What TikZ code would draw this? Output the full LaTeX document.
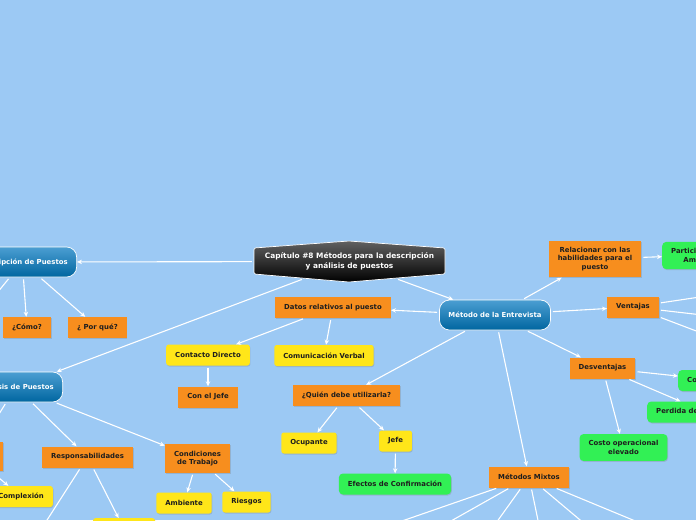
\documentclass[tikz,border=0pt]{standalone}
\usepackage{fontspec}
\setmainfont{DejaVu Sans}
\usetikzlibrary{arrows.meta,shadows}
\definecolor{fondo}{RGB}{156,201,244}
\definecolor{naranja}{RGB}{247,142,30}
\definecolor{amarillo}{RGB}{255,230,25}
\definecolor{verde}{RGB}{50,240,85}
\definecolor{azulclaro}{RGB}{75,158,210}
\definecolor{azuloscuro}{RGB}{0,102,160}
\definecolor{texto}{RGB}{30,30,30}

\begin{document}
\begin{tikzpicture}[x=1pt,y=-1pt,
        every node/.style={font=\bfseries\fontsize{6.9}{8.6}\selectfont,text=texto,align=center},
        caja/.style={inner xsep=9pt,inner ysep=6.5pt,minimum height=21pt,
          drop shadow={shadow xshift=0.7pt,shadow yshift=-1pt,opacity=0.3}},
        cajanar/.style={caja,fill=naranja},
        cajaama/.style={caja,fill=amarillo,rounded corners=2.5pt},
        cajaver/.style={caja,fill=verde,rounded corners=4pt},
        pildora/.style={inner xsep=9pt,minimum height=30pt,rounded corners=10pt,draw=white,
          line width=0.7pt,top color=azulclaro,bottom color=azuloscuro,text=white},
        flecha/.style={draw=white,line width=1.1pt,-{Stealth[length=5pt,width=4.5pt]},shorten <=2pt}]
        \useasboundingbox (0,0) rectangle (696,520);
        \clip (0,0) rectangle (696,520);
        \fill[fondo] (0,0) rectangle (696,520);
        % tema central
        \draw[white,line width=0.7pt,rounded corners=1.5pt,top color=black!62,middle color=black!90,bottom color=black]
          (254,248) -- (349,241) -- (445,248) -- (445,274) -- (349,282) -- (254,274) -- cycle;
        \node(cap)[text=white,font=\bfseries\fontsize{7.4}{10}\selectfont,minimum width=191pt,minimum height=34pt]
          at (349.5,261.5) {Capítulo \#8 Métodos para la descripción\\y análisis de puestos};
        % descripcion
        \node(desc)[pildora,anchor=east] at (77,262) {Descripción de Puestos};
        \node(como)[cajanar] at (27,327.5) {¿Cómo?};
        \node(porque)[cajanar] at (97.5,327.5) {¿ Por qué?};
        \coordinate(d1) at (-25,320);
        % analisis
        \node(anal)[pildora,anchor=east] at (63,387) {Análisis de Puestos};
        \node(izq)[cajanar,anchor=east,minimum width=60pt,minimum height=29pt] at (3,456) {};
        \node(complex)[cajaama,anchor=east] at (53,496.5) {Complexión};
        \node(resp)[cajanar] at (87.5,457) {Responsabilidades};
        \node(abajo)[cajaama,anchor=north,minimum width=62pt] at (124,518) {};
        \coordinate(r1) at (40,531);
        \node(cond)[cajanar] at (197.5,458.5) {Condiciones\\de Trabajo};
        \node(amb)[cajaama] at (184,503) {Ambiente};
        \node(ries)[cajaama] at (246.5,502) {Riesgos};
        % entrevista
        \node(entrev)[pildora] at (495,315) {Método de la Entrevista};
        \node(datos)[cajanar] at (333,307.5) {Datos relativos al puesto};
        \node(contacto)[cajaama] at (208,355) {Contacto Directo};
        \node(jefe1)[cajanar] at (208,397) {Con el Jefe};
        \node(verbal)[cajaama] at (324,355.5) {Comunicación Verbal};
        \node(quien)[cajanar] at (346.5,395.5) {¿Quién debe utilizarla?};
        \node(ocup)[cajaama] at (309,443) {Ocupante};
        \node(jefe2)[cajaama] at (395.5,441) {Jefe};
        \node(efectos)[cajaver] at (395,484) {Efectos de Confirmación};
        \node(mixtos)[cajanar] at (529,477) {Métodos Mixtos};
        \node(relac)[cajanar] at (595,259) {Relacionar con las\\habilidades para el\\puesto};
        \node(partic)[cajaver,anchor=west] at (662,255.5) {Participación\\Ambos};
        \node(ventajas)[cajanar] at (633,307) {Ventajas};
        \node(desv)[cajanar] at (602.5,368) {Desventajas};
        \node(co)[cajaver,anchor=west] at (678,380.5) {Consume tiempo};
        \node(perdida)[cajaver,anchor=west] at (647,412) {Perdida de productividad};
        \node(costo)[cajaver] at (623.5,447.5) {Costo operacional\\elevado};
        \coordinate(v1) at (720,294);
        \coordinate(v2) at (720,317);
        \coordinate(v3) at (720,340);
        \coordinate(m1) at (376,530);
        \coordinate(m2) at (435,530);
        \coordinate(m3) at (491,530);
        \coordinate(m4) at (540,530);
        \coordinate(m5) at (592,530);
        \coordinate(m6) at (657,530);
        % conectores
        \draw[flecha](cap)--(desc);
        \draw[flecha](cap)--(anal);
        \draw[flecha](cap)--(entrev);
        \draw[flecha](desc)--(como);
        \draw[flecha](desc)--(porque);
        \draw[flecha](desc)--(d1);
        \draw[flecha](anal)--(izq);
        \draw[flecha](anal)--(resp);
        \draw[flecha](anal)--(cond);
        \draw[flecha](izq)--(complex);
        \draw[flecha](resp)--(abajo);
        \draw[flecha](resp)--(r1);
        \draw[flecha](cond)--(amb);
        \draw[flecha](cond)--(ries);
        \draw[flecha](entrev)--(datos);
        \draw[flecha](entrev)--(quien);
        \draw[flecha](entrev)--(mixtos);
        \draw[flecha](entrev)--(relac);
        \draw[flecha](entrev)--(ventajas);
        \draw[flecha](entrev)--(desv);
        \draw[flecha](datos)--(contacto);
        \draw[flecha](datos)--(verbal);
        \draw[flecha](contacto)--(jefe1);
        \draw[flecha](quien)--(ocup);
        \draw[flecha](quien)--(jefe2);
        \draw[flecha](jefe2)--(efectos);
        \draw[flecha](relac)--(partic);
        \draw[flecha](ventajas)--(v1);
        \draw[flecha](ventajas)--(v2);
        \draw[flecha](ventajas)--(v3);
        \draw[flecha](desv)--(co);
        \draw[flecha](desv)--(perdida);
        \draw[flecha](desv)--(costo);
        \foreach \m in {m1,m2,m3,m4,m5,m6}
          \draw[flecha](mixtos)--(\m);
\end{tikzpicture}
\end{document}
